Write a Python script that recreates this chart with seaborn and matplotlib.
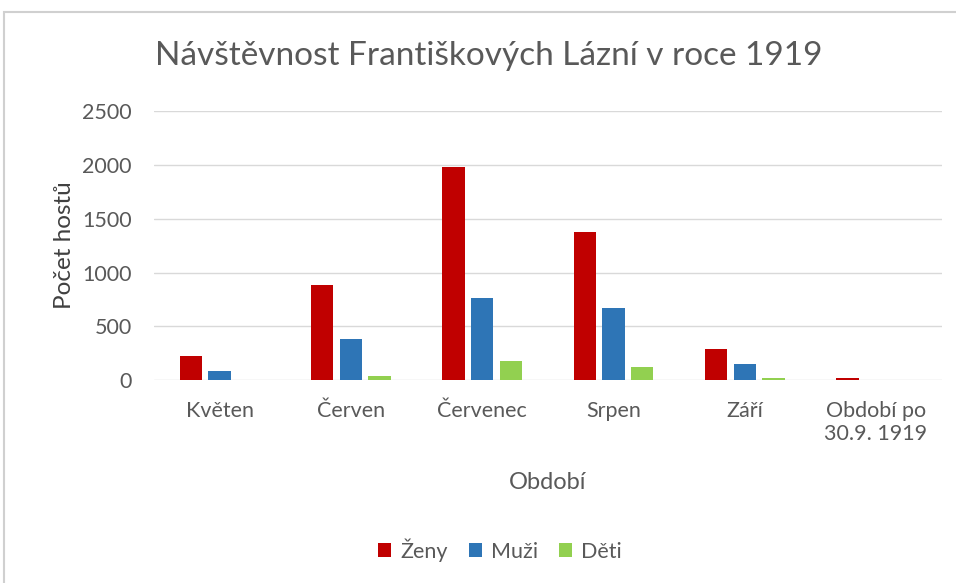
import pandas as pd
import seaborn as sns
import matplotlib.pyplot as plt
from matplotlib.patches import Rectangle

# Data
obdobi = ['Květen', 'Červen', 'Červenec', 'Srpen', 'Září', 'Období po\n30.9. 1919']
skupiny = ['Ženy', 'Muži', 'Děti']
zeny = [225, 885, 1980, 1375, 290, 18]
muzi = [85, 380, 765, 670, 148, 0]
deti = [0, 35, 180, 125, 16, 0]
barvy = ['#C00000', '#2E75B6', '#92D050']

df = pd.DataFrame({'Období': obdobi * 3,
                   'skupina': [s for s in skupiny for _ in obdobi],
                   'hosté': zeny + muzi + deti})

sns.set_style('white')
plt.rcParams['font.family'] = ['Lato', 'DejaVu Sans']

fig = plt.figure(figsize=(9.56, 5.83), dpi=100)
ax = fig.add_axes([0.161, 0.348, 0.824, 0.4614])

sns.barplot(data=df, x='Období', y='hosté', hue='skupina', hue_order=skupiny,
            palette=barvy, saturation=1, width=0.656, gap=0.22, ax=ax,
            legend=True, edgecolor='none', zorder=3)

ax.set_ylim(0, 2500)
ax.set_yticks(range(0, 2501, 500))
ax.grid(axis='y', color='#d9d9d9', linewidth=1, zorder=0)
ax.set_axisbelow(True)
for s in ax.spines.values():
    s.set_visible(False)
ax.tick_params(axis='both', length=0, labelsize=15.5, labelcolor='#595959')
ax.tick_params(axis='y', pad=16)
ax.tick_params(axis='x', pad=15)

ax.set_ylabel('Počet hostů', fontsize=17.5, color='#404040', labelpad=5)
ax.set_xlabel('Období', fontsize=17, color='#595959', labelpad=20)

fig.suptitle('Návštěvnost Františkových Lázní v roce 1919', x=0.511, y=0.93,
             fontsize=24, color='#595959')

handles, labels = ax.get_legend_handles_labels()
ax.get_legend().remove()
fig.legend(handles, labels, loc='center', bbox_to_anchor=(0.523, 0.057), ncol=3,
           frameon=False, fontsize=15.5, handlelength=0.6, handleheight=0.6,
           handletextpad=0.4, columnspacing=1.0, labelcolor='#595959')

# rámeček grafu
fig.patches.append(Rectangle((4 / 956, -0.1), 1.1, 1 - 12 / 583 + 0.1,
                             transform=fig.transFigure, fill=False,
                             edgecolor='#d0d0d0', linewidth=1.5))

plt.savefig('out.png', dpi=100)
